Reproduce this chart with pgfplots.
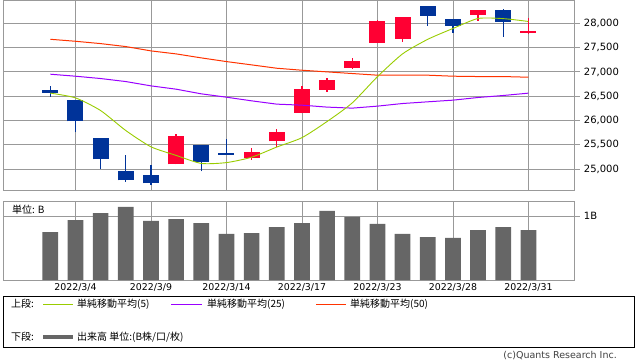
\documentclass[border=0pt]{standalone}
\usepackage{fontspec}
\setmainfont{DejaVu Sans}
\newfontfamily\jp{Noto Sans CJK JP}
\usepackage{pgfplots}
\usepackage{pgfplotstable}
\pgfplotsset{compat=1.18}
\definecolor{candr}{HTML}{FF0033}
\definecolor{candb}{HTML}{003399}
\definecolor{ma5}{HTML}{99CC00}
\definecolor{ma25}{HTML}{9900FF}
\definecolor{ma50}{HTML}{FF3300}
\definecolor{gridc}{HTML}{999999}
\definecolor{volc}{HTML}{666666}

% i bot bh lo wr
\pgfplotstableread{
i bot bh lo wr
5 25096 589 25096 630
8 25219 137 25192 246
9 25569 198 25459 370
10 26164 487 26144 568
11 26637 199 26596 281
12 27089 137 27068 220
13 27603 445 27603 459
14 27678 452 27623 507
17 28178 96 28048 226
19 27805 40 27774 329
}\redtab
\pgfplotstableread{
i bot bh lo wr
0 26575 55 26493 219
1 25980 445 25753 677
2 25199 445 24993 651
3 24767 199 24740 555
4 24706 178 24671 418
6 25151 349 24952 548
7 25295 41 25295 328
15 28158 198 27945 411
16 27952 130 27801 281
18 28034 240 27726 562
}\bluetab
\pgfplotstableread{
i vol
0 0.754
1 0.942
2 1.052
3 1.147
4 0.927
5 0.958
6 0.895
7 0.723
8 0.738
9 0.832
10 0.895
11 1.084
12 0.990
13 0.880
14 0.723
15 0.675
16 0.660
17 0.785
18 0.832
19 0.785
}\voltab

\begin{document}
\begin{tikzpicture}
\path[use as bounding box] (0bp,0bp) rectangle (638bp,-362bp);
\pgfplotsset{
  common/.style={
    scale only axis, width=571.7bp,
    xmin=-1.88, xmax=20.84,
    xtick={1,4,7,10,13,16,19},
    xmajorgrids, ymajorgrids,
    grid style={gridc, line width=0.8bp},
    axis line style={gridc, line width=0.8bp},
    xtick style={draw=none},
    ytick pos=right, ytick align=outside,
    ytick style={gridc, line width=0.8bp},
    major tick length=5bp,
    scaled y ticks=false,
    yticklabel style={font=\fontsize{10bp}{12bp}\selectfont, anchor=west, inner sep=0pt, xshift=4bp},
    /pgf/number format/assume math mode=true,
  },
}
\begin{axis}[common,
  at={(3bp,-0.5bp)}, anchor=north west, height=189.5bp,
  ymin=24569, ymax=28469,
  ytick={25000,25500,...,28000},
  xticklabels={},
  yticklabel={\pgfmathprintnumber[fixed, precision=0, 1000 sep={,}]{\tick}},
]
% wicks
\addplot[draw=none, forget plot, error bars/.cd, y dir=plus, y explicit, error mark=none,
  error bar style={draw=candr, line width=1.3bp}] table[x=i, y=lo, y error plus=wr] {\redtab};
\addplot[draw=none, forget plot, error bars/.cd, y dir=plus, y explicit, error mark=none,
  error bar style={draw=candb, line width=1.3bp}] table[x=i, y=lo, y error plus=wr] {\bluetab};
% bodies
\addplot[draw=none, forget plot, error bars/.cd, y dir=plus, y explicit, error mark=none,
  error bar style={draw=candr, line width=16bp}] table[x=i, y=bot, y error plus=bh] {\redtab};
\addplot[draw=none, forget plot, error bars/.cd, y dir=plus, y explicit, error mark=none,
  error bar style={draw=candb, line width=16bp}] table[x=i, y=bot, y error plus=bh] {\bluetab};
% moving averages
\addplot[ma50, line width=1bp] coordinates {
(0,27671) (1,27630) (2,27582) (3,27521) (4,27432) (5,27370) (6,27288) (7,27212) (8,27144) (9,27075)
(10,27034) (11,27000) (12,26966) (13,26932) (14,26932) (15,26932) (16,26911) (17,26904) (18,26904) (19,26890)};
\addplot[ma25, line width=1bp] coordinates {
(0,26952) (1,26911) (2,26863) (3,26801) (4,26712) (5,26644) (6,26548) (7,26479) (8,26404) (9,26336)
(10,26315) (11,26275) (12,26254) (13,26295) (14,26349) (15,26384) (16,26418) (17,26473) (18,26514) (19,26562)};
\addplot[ma5, line width=0.9bp, smooth, tension=0.4] coordinates {
(0,26563) (1,26465) (2,26204) (3,25793) (4,25458) (5,25281) (6,25116) (7,25133) (8,25244) (9,25453)
(10,25646) (11,25979) (12,26362) (13,26901) (14,27371) (15,27670) (16,27893) (17,28099) (18,28096) (19,28038)};
\end{axis}

\begin{axis}[common,
  at={(3bp,-201bp)}, anchor=north west, height=79bp,
  ymin=0, ymax=1.241,
  ytick={1}, yticklabels={1B},
  xticklabels={2022/3/4,2022/3/9,2022/3/14,2022/3/17,2022/3/23,2022/3/28,2022/3/31},
  xticklabel style={font=\fontsize{9.4bp}{11bp}\selectfont, inner sep=0pt, yshift=-3bp},
]
\addplot[ybar, bar width=15.7bp, fill=volc, draw=none] table[x=i, y=vol] {\voltab};
\node[anchor=west, inner sep=0pt, font=\jp\fontsize{10bp}{12bp}\selectfont] at (rel axis cs:0,1) [yshift=-9bp, xshift=9bp] {単位: B};
\end{axis}

% legend box
\draw[black, line width=0.8bp] (3bp,-296bp) rectangle (634bp,-347bp);
\begin{scope}[every node/.style={anchor=west, inner sep=0pt, font=\jp\fontsize{10bp}{12bp}\selectfont}]
\node at (11bp,-304bp) {上段:};
\draw[ma5, line width=0.9bp] (43bp,-304bp) -- (73bp,-304bp);
\node at (77bp,-304bp) {単純移動平均(5)};
\draw[ma25, line width=0.9bp] (171bp,-304bp) -- (202bp,-304bp);
\node at (207bp,-304bp) {単純移動平均(25)};
\draw[ma50, line width=0.9bp] (316bp,-304bp) -- (346bp,-304bp);
\node at (350bp,-304bp) {単純移動平均(50)};
\node at (11bp,-337bp) {下段:};
\draw[volc, line width=3.5bp] (43bp,-337bp) -- (73bp,-337bp);
\node at (77bp,-337bp) {出来高 単位:(B株/口/枚)};
\end{scope}
\node[anchor=east, inner sep=0pt, font=\fontsize{9.5bp}{11bp}\selectfont, text=black!75] at (617bp,-356bp) {(c)Quants Research Inc.};
\end{tikzpicture}
\end{document}
